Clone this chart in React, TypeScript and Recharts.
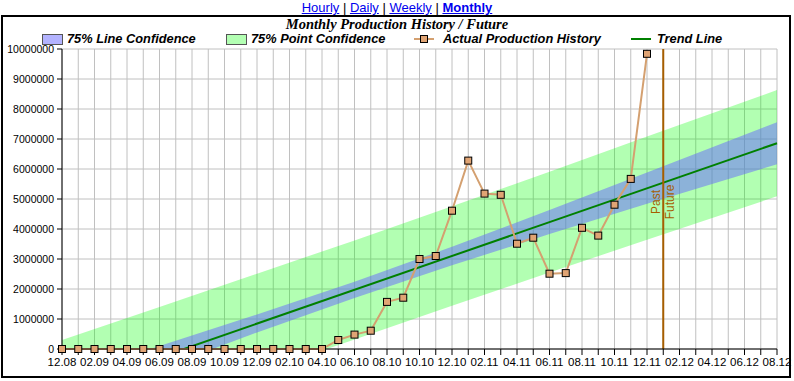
import React from 'react';
import { ComposedChart, Area, Line, XAxis, YAxis, CartesianGrid, ReferenceLine } from 'recharts';

// month labels every 2 months, from 12.08 to 08.12
const tickLabels = [
  '12.08', '02.09', '04.09', '06.09', '08.09', '10.09', '12.09', '02.10', '04.10', '06.10', '08.10', '10.10',
  '12.10', '02.11', '04.11', '06.11', '08.11', '10.11', '12.11', '02.12', '04.12', '06.12', '08.12',
];

// monthly production, 12.08 .. 12.11
const production = [
  0, 0, 0, 0, 0, 0, 0, 0, 0, 0, 0, 0, 0, 0, 0, 0, 0,
  300000, 480000, 610000, 1570000, 1710000, 3000000, 3100000, 4610000, 6280000, 5180000,
  5140000, 3510000, 3710000, 2510000, 2530000, 4040000, 3780000, 4810000, 5670000, 9840000,
];

// confidence bands read at a few months (index from 12.08)
const bandMonths = [0, 6, 12, 18, 24, 30, 36, 44];
const lineConfLow = [-1860000, -660000, 550000, 1700000, 2790000, 3830000, 4840000, 6160000];
const lineConfHigh = [-960000, 100000, 1150000, 2240000, 3410000, 4630000, 5880000, 7560000];
const pointConfLow = [-3120000, -1960000, -810000, 320000, 1440000, 2550000, 3640000, 5090000];
const pointConfHigh = [300000, 1400000, 2510000, 3620000, 4760000, 5910000, 7080000, 8630000];

const trendMonths = [0, 44];
const trendValues = [-1410000, 6860000];

const yTicks = [0, 1000000, 2000000, 3000000, 4000000, 5000000, 6000000, 7000000, 8000000, 9000000, 10000000];
const lastMonth = 44;
const pastFutureMonth = 37;

const rows = Array.from({ length: lastMonth + 1 }, (_, m) => {
  const b = bandMonths.indexOf(m);
  const t = trendMonths.indexOf(m);
  return {
    m,
    prod: m < production.length ? production[m] : null,
    lineConf: b >= 0 ? [lineConfLow[b], lineConfHigh[b]] : null,
    pointConf: b >= 0 ? [pointConfLow[b], pointConfHigh[b]] : null,
    trend: t >= 0 ? trendValues[t] : null,
  };
});

const xTicks = rows.map((r) => r.m);

const sans = '"Liberation Sans", Arial, sans-serif';
const yTickFont = { fontSize: 10.5, fill: '#000', fontFamily: sans };
const xTickFont = { fontSize: 11.5, fill: '#000', fontFamily: sans };
const legendFont: React.CSSProperties = {
  position: 'absolute',
  top: 31,
  fontFamily: sans,
  fontWeight: 'bold',
  fontStyle: 'italic',
  fontSize: 12.8,
  lineHeight: '16px',
  whiteSpace: 'nowrap',
};

const SquareDot = (props: any) => {
  const { cx, cy, index } = props;
  if (cx == null || cy == null || isNaN(cy)) return <g key={index} />;
  return <rect key={index} x={cx - 3.5} y={cy - 3.5} width={7} height={7} fill="#e0a474" stroke="#000" strokeWidth={1} />;
};

const PastFutureLabel = (props: any) => {
  const { viewBox } = props;
  const x = viewBox.x;
  const y = 202;
  const style = { fontSize: 12, fill: '#a65e00', fontFamily: sans };
  return (
    <g>
      <text x={x - 7} y={y} transform={`rotate(-90 ${x - 7} ${y})`} textAnchor="middle" dominantBaseline="central" style={style}>Past</text>
      <text x={x + 7} y={y} transform={`rotate(-90 ${x + 7} ${y})`} textAnchor="middle" dominantBaseline="central" style={style}>Future</text>
    </g>
  );
};

export default function App() {
  return (
    <div style={{ position: 'absolute', left: 0, top: 0, width: 794, height: 381, background: '#fff' }}>
      <div style={{ position: 'absolute', top: 0, left: 0, width: 794, textAlign: 'center', fontFamily: sans, fontSize: 13, lineHeight: '15px' }}>
        <a href="#" style={{ color: '#0000ee' }}>Hourly</a> | <a href="#" style={{ color: '#0000ee' }}>Daily</a> | <a href="#" style={{ color: '#0000ee' }}>Weekly</a> | <a href="#" style={{ color: '#0000ee', fontWeight: 'bold' }}>Monthly</a>
      </div>
      <div style={{ position: 'absolute', left: 1, top: 15, width: 790, height: 363, border: '2px solid #000', boxSizing: 'border-box' }} />
      <div style={{ position: 'absolute', top: 16, left: 0, width: 794, textAlign: 'center', fontFamily: '"Liberation Serif", "Times New Roman", serif', fontWeight: 'bold', fontStyle: 'italic', fontSize: 14.5, lineHeight: '17px' }}>
        Monthly Production History / Future
      </div>

      <div style={{ position: 'absolute', left: 42, top: 34, width: 19, height: 9, background: '#b3b3ff', border: '1px solid #555' }} />
      <div style={{ ...legendFont, left: 67 }}>75% Line Confidence</div>
      <div style={{ position: 'absolute', left: 226, top: 34, width: 19, height: 9, background: '#b3ffb3', border: '1px solid #555' }} />
      <div style={{ ...legendFont, left: 251 }}>75% Point Confidence</div>
      <div style={{ position: 'absolute', left: 414, top: 38, width: 20, height: 2, background: '#d4a070' }} />
      <div style={{ position: 'absolute', left: 420, top: 35, width: 6, height: 6, background: '#e0a474', border: '1px solid #000' }} />
      <div style={{ ...legendFont, left: 443 }}>Actual Production History</div>
      <div style={{ position: 'absolute', left: 631, top: 38, width: 20, height: 2, background: '#008000' }} />
      <div style={{ ...legendFont, left: 657 }}>Trend Line</div>

      <div style={{ position: 'absolute', left: 0, top: 0 }}>
        <ComposedChart width={794} height={381} data={rows} margin={{ top: 49, right: 17, bottom: 2, left: 0 }}>
          <CartesianGrid stroke="#c0c0c0" />
          <XAxis
            dataKey="m"
            type="number"
            domain={[0, lastMonth]}
            ticks={xTicks}
            interval={0}
            height={30}
            tickSize={6}
            tickMargin={3}
            stroke="#000"
            tick={xTickFont}
            tickFormatter={(v: number) => (v % 2 === 0 ? tickLabels[v / 2] : '')}
          />
          <XAxis xAxisId="top" orientation="top" type="number" domain={[0, lastMonth]} height={0} tick={false} tickLine={false} axisLine={{ stroke: '#000' }} />
          <YAxis
            type="number"
            domain={[0, 10000000]}
            ticks={yTicks}
            allowDataOverflow
            width={62}
            tickSize={5}
            tickMargin={3}
            stroke="#000"
            tick={yTickFont}
            interval={0}
          />
          <YAxis yAxisId="prod" hide domain={[0, 10000000]} />
          <YAxis yAxisId="right" orientation="right" width={0} domain={[0, 1]} tick={false} tickLine={false} axisLine={{ stroke: '#000' }} />
          <Area dataKey="pointConf" type="linear" fill="#00ff00" fillOpacity={0.3} stroke="none" connectNulls dot={false} activeDot={false} isAnimationActive={false} />
          <Area dataKey="lineConf" type="linear" fill="#6666ff" fillOpacity={0.5} stroke="none" connectNulls dot={false} activeDot={false} isAnimationActive={false} />
          <Line dataKey="trend" type="linear" stroke="#008000" strokeWidth={2} connectNulls dot={false} activeDot={false} isAnimationActive={false} />
          <ReferenceLine x={pastFutureMonth} stroke="#a65e00" strokeWidth={2} label={<PastFutureLabel />} />
          <Line yAxisId="prod" dataKey="prod" type="linear" stroke="#d4a070" strokeWidth={2} dot={<SquareDot />} activeDot={false} isAnimationActive={false} />
        </ComposedChart>
      </div>
    </div>
  );
}
